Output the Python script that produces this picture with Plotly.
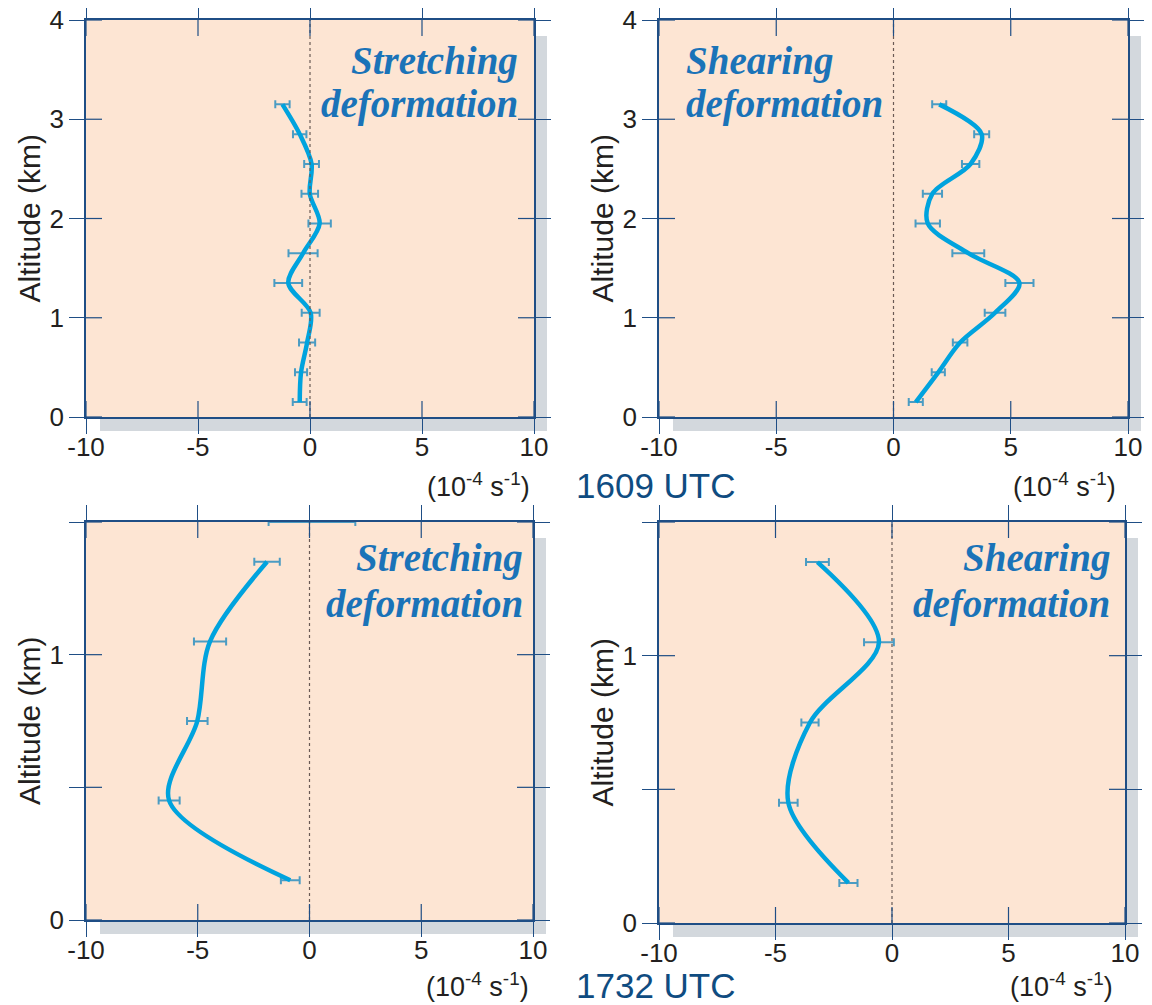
import plotly.graph_objects as go

# ---------------- data ----------------
alt_1609 = [0.15, 0.45, 0.75, 1.05, 1.35, 1.65, 1.95, 2.25, 2.55, 2.85, 3.15]
stretch_1609 = [-0.46, -0.40, -0.13, 0.03, -0.97, -0.31, 0.43, -0.01, 0.07, -0.46, -1.23]
stretch_err_1609 = [0.31, 0.27, 0.36, 0.40, 0.62, 0.65, 0.50, 0.37, 0.33, 0.30, 0.32]
shear_1609 = [0.95, 1.91, 2.84, 4.33, 5.37, 3.19, 1.46, 1.66, 3.29, 3.76, 1.95]
shear_err_1609 = [0.30, 0.28, 0.31, 0.44, 0.60, 0.68, 0.52, 0.41, 0.37, 0.32, 0.30]

alt_1732 = [0.15, 0.45, 0.75, 1.05, 1.35]
stretch_1732 = [-0.86, -6.28, -5.02, -4.45, -1.90]
stretch_err_1732 = [0.42, 0.47, 0.46, 0.72, 0.57]
stray_alt_1732 = [1.5]
stray_x_1732 = [0.11]
stray_err_1732 = [1.94]
shear_1732 = [-1.87, -4.45, -3.52, -0.56, -3.20]
shear_err_1732 = [0.39, 0.40, 0.37, 0.64, 0.49]

x_ticks = [-10, -5, 0, 5, 10]
x_ticktext = ["-10", "-5", "0", "5", "10"]
y_ticks_top = [0, 1, 2, 3, 4]
y_ticks_bot = [0, 0.5, 1, 1.5]
y_ticktext_bot = ["0", " ", "1", " "]

panel_titles = [["Stretching", "deformation"], ["Shearing", "deformation"],
                ["Stretching", "deformation"], ["Shearing", "deformation"]]
time_labels = ["1609 UTC", "1732 UTC"]
unit_label = "(10<sup>-4</sup> s<sup>-1</sup>)"
y_title = "Altitude (km)"

# ---------------- style ----------------
OFF = 8                      # page body margin
W, H = 1152 - OFF, 1005 - OFF
NAVY = "#1f4e85"
PEACH = "#fde5d3"
SHADOW = "#d3d8dd"
CURVE = "#00a3de"
ERR = "#4b9cc3"
TXT = "#231f20"
TITLE_BLUE = "#1a73b8"
TIME_BLUE = "#0f4c81"
SANS = "Liberation Sans, Arial, sans-serif"
SERIF = "Liberation Serif, Times New Roman, serif"

def px(x):
    return (x - OFF) / W

def py(y):
    return 1 - (y - OFF) / H

# panel pixel boxes (page pixels): (left, right, top, bottom)
boxes = [(86, 534, 20, 417), (659, 1128, 20, 417), (86, 533, 522, 920), (659, 1125, 522, 923)]
yranges = [[0, 4], [0, 4], [0, 1.5], [0, 1.5]]
unit_y = [485, 485, 985, 985]

fig = go.Figure()
shapes = []
annotations = []

series = [
    (stretch_1609, alt_1609, stretch_err_1609),
    (shear_1609, alt_1609, shear_err_1609),
    (stretch_1732, alt_1732, stretch_err_1732),
    (shear_1732, alt_1732, shear_err_1732),
]

for i, (xs, ys, es) in enumerate(series):
    n = "" if i == 0 else str(i + 1)
    xa, ya = "x" + n, "y" + n
    fig.add_trace(go.Scatter(
        x=xs, y=ys, mode="markers", xaxis=xa, yaxis=ya,
        marker=dict(size=1, color="rgba(0,0,0,0)"),
        error_x=dict(type="data", array=es, visible=True, color=ERR, thickness=2, width=4),
        hoverinfo="skip"))
    if i == 2:
        fig.add_trace(go.Scatter(
            x=stray_x_1732, y=stray_alt_1732, mode="markers", xaxis=xa, yaxis=ya,
            marker=dict(size=1, color="rgba(0,0,0,0)"), cliponaxis=False,
            error_x=dict(type="data", array=stray_err_1732, visible=True, color=ERR, thickness=2, width=4),
            hoverinfo="skip"))
    fig.add_trace(go.Scatter(
        x=xs, y=ys, mode="lines", xaxis=xa, yaxis=ya,
        line=dict(color=CURVE, width=4.5, shape="spline", smoothing=0.9)))

layout = dict(width=W, height=H, margin=dict(l=0, r=0, t=0, b=0, autoexpand=False),
              paper_bgcolor="white", plot_bgcolor="rgba(0,0,0,0)", showlegend=False)

for i, (l, r, t, b) in enumerate(boxes):
    n = "" if i == 0 else str(i + 1)
    ax_common = dict(showline=True, linecolor=NAVY, linewidth=1.5, mirror="allticks",
                     ticks="outside", ticklen=15, tickcolor=NAVY, tickwidth=1.2,
                     showgrid=False, zeroline=False, automargin=False,
                     ticklabeloverflow="allow",
                     tickfont=dict(family=SANS, size=26, color=TXT))
    layout["xaxis" + n] = dict(ax_common, domain=[px(l), px(r)], range=[-10, 10],
                               tickvals=x_ticks, ticktext=x_ticktext, anchor="y" + n,
                               ticklabelstandoff=-9)
    if i < 2:
        layout["yaxis" + n] = dict(ax_common, domain=[py(b), py(t)], range=yranges[i],
                                   tickvals=y_ticks_top, anchor="x" + n)
        yt = y_ticks_top
    else:
        layout["yaxis" + n] = dict(ax_common, domain=[py(b), py(t)], range=yranges[i],
                                   tickvals=y_ticks_bot, ticktext=y_ticktext_bot, anchor="x" + n)
        yt = y_ticks_bot
    # shadow and background
    shapes.append(dict(type="rect", xref="paper", yref="paper", layer="below",
                       x0=px(l + 14), x1=px(r + 13), y0=py(b + 14), y1=py(t + 16),
                       fillcolor=SHADOW, line=dict(width=0)))
    shapes.append(dict(type="rect", xref="paper", yref="paper", layer="below",
                       x0=px(l), x1=px(r), y0=py(b), y1=py(t),
                       fillcolor=PEACH, line=dict(width=0)))
    # zero dotted line
    shapes.append(dict(type="line", xref="x" + n, yref="y" + n + " domain",
                       x0=0, x1=0, y0=0, y1=1, layer="above",
                       line=dict(color="#6a5a55", width=1.2, dash="dot")))
    # inside ticks
    for tv in x_ticks:
        shapes.append(dict(type="line", xref="x" + n, yref="paper", ysizemode="pixel",
                           yanchor=py(b), x0=tv, x1=tv, y0=0, y1=16,
                           line=dict(color=NAVY, width=1.2)))
        shapes.append(dict(type="line", xref="x" + n, yref="paper", ysizemode="pixel",
                           yanchor=py(t), x0=tv, x1=tv, y0=-16, y1=0,
                           line=dict(color=NAVY, width=1.2)))
    for tv in yt:
        shapes.append(dict(type="line", yref="y" + n, xref="paper", xsizemode="pixel",
                           xanchor=px(l), y0=tv, y1=tv, x0=0, x1=16,
                           line=dict(color=NAVY, width=1.2)))
        shapes.append(dict(type="line", yref="y" + n, xref="paper", xsizemode="pixel",
                           xanchor=px(r), y0=tv, y1=tv, x0=-16, x1=0,
                           line=dict(color=NAVY, width=1.2)))
    # y title
    annotations.append(dict(text=y_title, xref="paper", yref="paper",
                            x=px(l - 57), y=py((t + b) / 2), textangle=-90,
                            xanchor="center", yanchor="middle", showarrow=False,
                            font=dict(family=SANS, size=30, color=TXT)))
    # unit label
    annotations.append(dict(text=unit_label, xref="paper", yref="paper",
                            x=px(r - 2 if i % 2 == 0 else r - 10), y=py(unit_y[i]),
                            xanchor="right", yanchor="middle", showarrow=False,
                            font=dict(family=SANS, size=27, color=TXT)))

# panel titles (one annotation per line)
title_pos = [(520, 61, 104, "right"), (684, 61, 104, "left"),
             (525, 558, 604, "right"), (1112, 558, 604, "right")]
for (x, y1, y2, al), lines in zip(title_pos, panel_titles):
    for txt, yy in zip(lines, [y1, y2]):
        annotations.append(dict(text=txt, xref="paper", yref="paper",
                                x=px(x), y=py(yy), xanchor=al, yanchor="middle", align=al,
                                showarrow=False,
                                font=dict(family=SERIF, size=39, color=TITLE_BLUE,
                                          weight="bold", style="italic")))

# time labels
for lab, y in zip(time_labels, [485, 985]):
    annotations.append(dict(text=lab, xref="paper", yref="paper", x=px(574), y=py(y),
                            xanchor="left", yanchor="middle", showarrow=False,
                            font=dict(family=SANS, size=35, color=TIME_BLUE)))

layout["shapes"] = shapes
layout["annotations"] = annotations
fig.update_layout(**layout)
fig.write_html("out.html")
